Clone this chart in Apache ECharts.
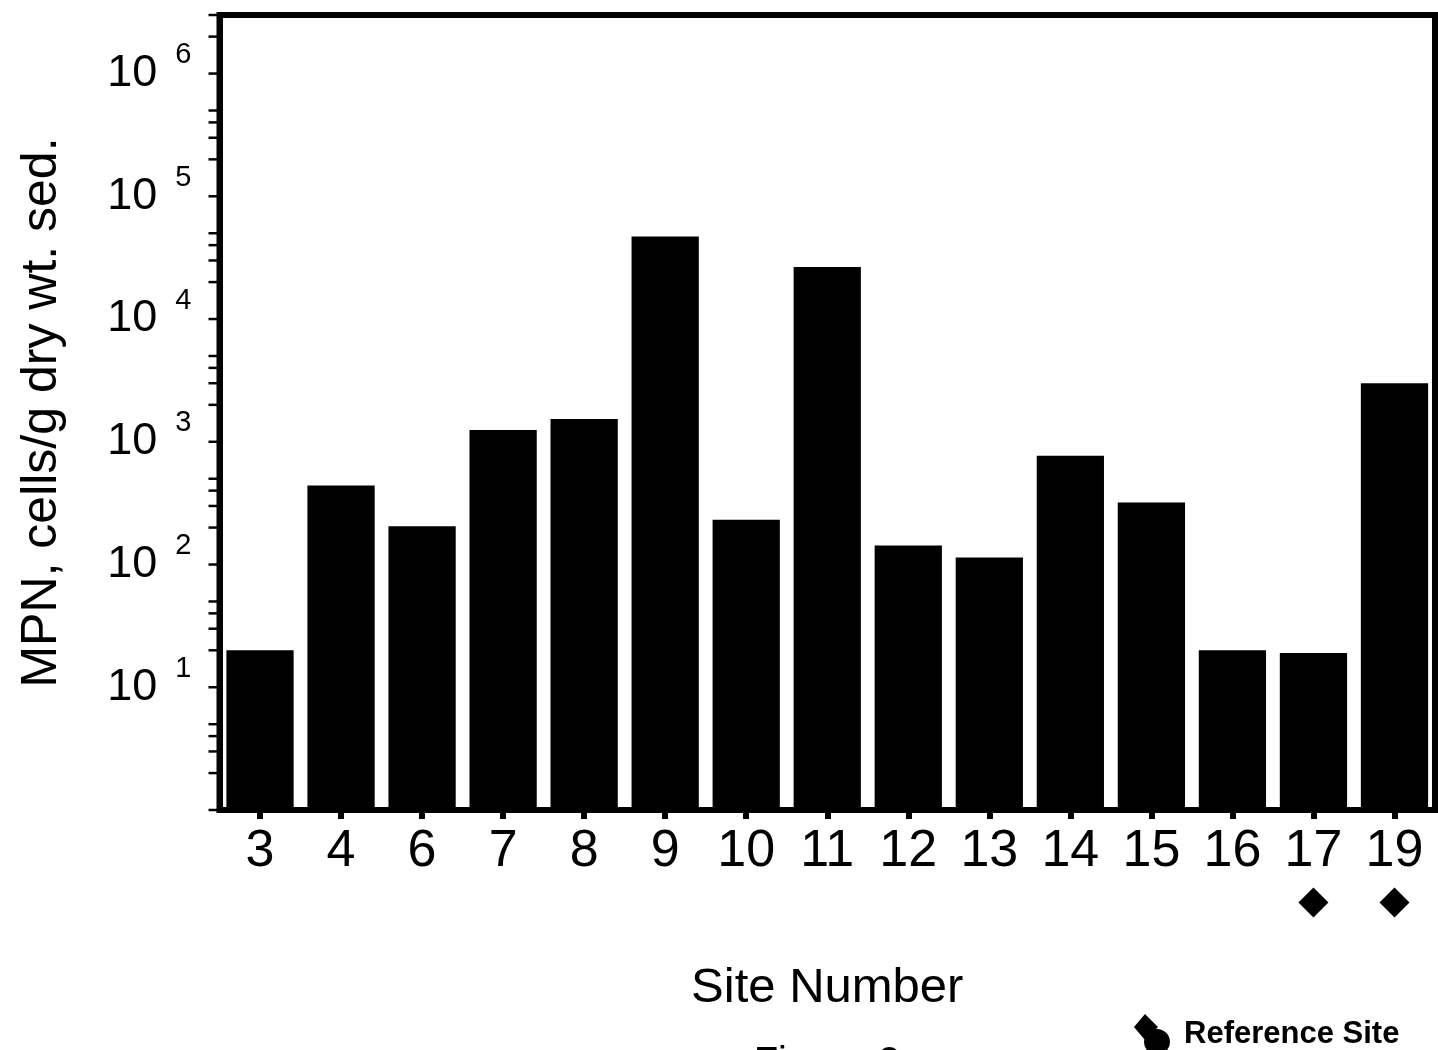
<!DOCTYPE html>
<html>
<head>
<meta charset="utf-8">
<title>MPN by site</title>
<script src="https://cdn.jsdelivr.net/npm/echarts@6/dist/echarts.min.js"></script>
<style>
  html, body { margin: 0; padding: 0; background: #fff; }
  #chart { width: 1438px; height: 1050px; }
</style>
</head>
<body>
<div id="chart"></div>
<script>
// Site numbers along the x axis
const sites = ['3', '4', '6', '7', '8', '9', '10', '11', '12', '13', '14', '15', '16', '17', '19'];
// MPN, cells per gram dry weight of sediment
const mpn = [20, 440, 205, 1250, 1530, 47000, 232, 26500, 143, 114, 770, 320, 20, 19, 3000];
// Sites flagged as reference sites
const referenceSites = ['17', '19'];
// Log axis range and tick layout (ticks at 1..5 times each power of ten)
const yMin = 1;
const yMax = 3e6;
const tickDecades = [1, 10, 100, 1000, 10000, 100000, 1000000];
const tickMultiples = [1, 2, 3, 4, 5];

const FONT = "'Liberation Sans', Arial, Helvetica, sans-serif";

const tickValues = [];
tickDecades.forEach(d => tickMultiples.forEach(m => {
  const v = d * m;
  if (v <= yMax) tickValues.push([0, v]);
}));

const refMarks = sites.map(s => (referenceSites.indexOf(s) >= 0 ? 0.5 : null));

const chart = echarts.init(document.getElementById('chart'), null, { renderer: 'canvas' });

chart.setOption({
  animation: false,
  backgroundColor: '#ffffff',
  grid: [
    { left: 219.5, right: 3, top: 15, bottom: 240, show: true, borderColor: '#000', borderWidth: 6, backgroundColor: 'transparent' },
    { left: 219.5, right: 3, top: 885, height: 35 }
  ],
  xAxis: [
    {
      type: 'category', gridIndex: 0, data: sites,
      axisLine: { show: true, lineStyle: { color: '#000', width: 6 } },
      axisTick: { show: true, alignWithLabel: true, length: 9, lineStyle: { color: '#000', width: 6 } },
      axisLabel: { color: '#000', fontSize: 52, fontFamily: FONT, margin: 16 },
      name: 'Site Number', nameLocation: 'middle', nameGap: 154,
      nameTextStyle: { color: '#000', fontSize: 49, fontFamily: FONT }
    },
    { type: 'category', gridIndex: 1, data: sites, show: false }
  ],
  yAxis: [
    {
      type: 'log', logBase: 10, gridIndex: 0, min: yMin, max: yMax, splitNumber: 6,
      axisLine: { show: true, lineStyle: { color: '#000', width: 6 } },
      axisTick: { show: false },
      splitLine: { show: false },
      axisLabel: {
        margin: 28,
        formatter: function (v) {
          const e = Math.log10(v);
          const r = Math.round(e);
          if (Math.abs(e - r) > 1e-6 || r < 1) return '';
          return '{b|10}{e|' + r + '}';
        },
        rich: {
          b: { fontSize: 45, lineHeight: 66, fontFamily: FONT, color: '#000' },
          e: { fontSize: 29, verticalAlign: 'top', fontFamily: FONT, color: '#000', padding: [0, 0, 0, 18] }
        }
      },
      name: 'MPN, cells/g dry wt. sed.', nameLocation: 'middle', nameGap: 152,
      nameTextStyle: { color: '#000', fontSize: 50, fontFamily: FONT }
    },
    { type: 'value', gridIndex: 1, min: 0, max: 1, show: false }
  ],
  legend: {
    left: 1129, top: 1009,
    itemWidth: 36, itemHeight: 41, selectedMode: false,
    data: [{
      name: 'Reference Site',
      icon: 'path://M11,0 L24,13 L11,26 L0,13 Z M10,28 A13,13 0 1,1 36,28 A13,13 0 1,1 10,28 Z',
      itemStyle: { color: '#000', opacity: 1 }
    }],
    textStyle: { color: '#000', fontSize: 31, fontWeight: 'bold', fontFamily: FONT, padding: [0, 0, 0, 9] }
  },
  graphic: [{
    type: 'text', x: 827, y: 1044,
    style: { text: 'Figure 2', font: "40px 'Liberation Sans', Arial, sans-serif", fill: '#000', textAlign: 'center', textVerticalAlign: 'top' }
  }],
  series: [
    {
      name: 'MPN', type: 'bar', xAxisIndex: 0, yAxisIndex: 0,
      data: mpn, barCategoryGap: '17%',
      itemStyle: { color: '#000' }
    },
    {
      name: 'Reference Site', type: 'scatter', xAxisIndex: 1, yAxisIndex: 1,
      data: refMarks, symbol: 'diamond', symbolSize: 30,
      itemStyle: { color: '#000', opacity: 1 }
    },
    {
      name: 'yTicks', type: 'custom', xAxisIndex: 0, yAxisIndex: 0,
      data: tickValues, encode: { x: 0, y: 1 }, silent: true,
      renderItem: function (params, api) {
        const y = api.coord([0, api.value(1)])[1];
        const x = params.coordSys.x;
        return {
          type: 'line',
          shape: { x1: x - 11, y1: y, x2: x, y2: y },
          style: { stroke: '#000', lineWidth: 2.5 }
        };
      }
    }
  ]
});
</script>
</body>
</html>
